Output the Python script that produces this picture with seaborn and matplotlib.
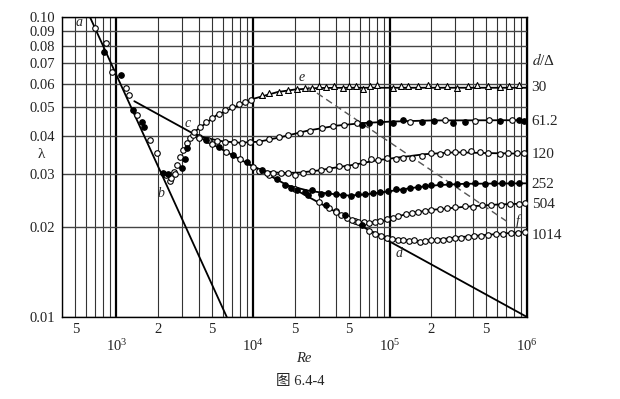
import pandas as pd
import matplotlib
matplotlib.use('Agg')
import matplotlib.pyplot as plt
import matplotlib.ticker as mticker
import matplotlib.transforms as mtransforms
import seaborn as sns

# ---- straight reference lines (end points)
lam_line_re = [640, 6400]
lam_line_y = [0.1, 0.01]
blas_line_re = [1350, 1e6]
blas_line_y = [0.0524, 0.01]
dash_re = [25000, 7.5e5]
dash_y = [0.0585, 0.0205]

# ---- fitted curves for each d/Delta
c30_re = [3600, 5400, 9900, 15000, 20000, 30000, 50000, 1e5, 1e6]
c30_y = [0.041, 0.0471, 0.0533, 0.0562, 0.0573, 0.0580, 0.0581, 0.0581, 0.0581]
c61_re = [3600, 4500, 6000, 8000, 11000, 16000, 25000, 40000, 63000, 1e5, 2e5, 1e6]
c61_y = [0.041, 0.0395, 0.0385, 0.0381, 0.0384, 0.0398, 0.0418, 0.0434, 0.0443, 0.0448, 0.0452, 0.0453]
c120_re = [9000, 12000, 16000, 22000, 30000, 40000, 55000, 80000, 1.2e5, 1.8e5, 3e5, 5e5, 1e6]
c120_y = [0.0325, 0.0306, 0.0302, 0.0303, 0.0308, 0.0315, 0.0322, 0.0333, 0.0341, 0.0349, 0.0354, 0.0352, 0.0350]
c252_re = [17000, 25000, 35000, 50000, 65000, 85000, 1.2e5, 1.6e5, 2.2e5, 3.5e5, 1e6]
c252_y = [0.0276, 0.0264, 0.0258, 0.0254, 0.0256, 0.0260, 0.0266, 0.0271, 0.0275, 0.0278, 0.0279]
c504_re = [40000, 47000, 55000, 70000, 85000, 1.1e5, 1.5e5, 2.1e5, 3.5e5, 6e5, 1e6]
c504_y = [0.0225, 0.0216, 0.0209, 0.0206, 0.0208, 0.0216, 0.0223, 0.0228, 0.0233, 0.0237, 0.0239]
c1014_re = [75000, 90000, 1.05e5, 1.3e5, 1.7e5, 2.2e5, 3e5, 4.5e5, 7e5, 1e6]
c1014_y = [0.0192, 0.0186, 0.0182, 0.0180, 0.0179, 0.0181, 0.0184, 0.0187, 0.0190, 0.0192]

# ---- measured points
lam_open_re = [700, 845, 935, 1170, 1245, 1424, 1750, 1963]
lam_open_y = [0.092, 0.0819, 0.0656, 0.058, 0.0549, 0.0471, 0.039, 0.0352]
lam_fill_re = [817, 1088, 1330, 1530, 1602, 2170]
lam_fill_y = [0.0764, 0.0641, 0.049, 0.0445, 0.043, 0.0302]
tr_open_re = [2320, 2480, 2520, 2650, 2700, 2750, 2890, 3040, 3250, 3420, 3600]
tr_open_y = [0.0297, 0.0283, 0.0291, 0.0304, 0.0300, 0.0321, 0.0341, 0.0360, 0.0380, 0.0395, 0.0404]
tr_fill_re = [2380, 2990, 3150, 3300]
tr_fill_y = [0.0300, 0.0313, 0.0335, 0.0365]
bl_open_re = [4000, 5000, 6300, 8000, 10000, 13000, 20000, 30000, 40000, 55000]
bl_open_y = [0.0399, 0.0377, 0.0356, 0.0336, 0.0317, 0.0297, 0.0267, 0.0241, 0.0225, 0.0209]
bl_fill_re = [4500, 5600, 7100, 9000, 11500, 15000, 25000, 34000, 47000, 62000]
bl_fill_y = [0.0389, 0.0369, 0.0348, 0.0328, 0.0308, 0.0289, 0.0255, 0.0236, 0.0219, 0.0203]

p30_rise_re = [3700, 4100, 4500, 5000, 5600, 6200, 7000, 7800, 8700, 9600]
p30_rise_y = [0.0415, 0.043, 0.0445, 0.046, 0.0475, 0.0488, 0.050, 0.0512, 0.0522, 0.053]
p30_re = [11500, 13000, 15500, 18000, 21000, 24000, 27000, 30000, 34000, 39000, 45000, 50000,
          56000, 63000, 71000, 80000, 1.05e5, 1.2e5, 1.35e5, 1.6e5, 1.9e5, 2.2e5, 2.6e5, 3.1e5,
          3.7e5, 4.3e5, 5.2e5, 6.3e5, 7.4e5, 8.8e5]
p30_y = [0.0548, 0.0556, 0.0563, 0.057, 0.0577, 0.058, 0.0578, 0.0588, 0.0586, 0.0590, 0.0578, 0.0591,
         0.0589, 0.0575, 0.0590, 0.0592, 0.0578, 0.0590, 0.0591, 0.0589, 0.0592, 0.0588, 0.0591, 0.0580,
         0.0590, 0.0592, 0.0588, 0.0585, 0.0591, 0.0592]
p61_open_re = [4000, 4700, 5400, 6200, 7200, 8300, 9500, 11000, 13000, 15500, 18000, 22000, 26000,
               32000, 38000, 46000, 57000, 1.4e5, 2.5e5, 4.2e5, 5.3e5, 7.8e5]
p61_open_y = [0.0395, 0.039, 0.0385, 0.0383, 0.0382, 0.038, 0.0382, 0.0384, 0.0392, 0.0398, 0.0405,
              0.0412, 0.0418, 0.0425, 0.0432, 0.0438, 0.0443, 0.0448, 0.0452, 0.0450, 0.0453, 0.0455]
p61_fill_re = [62000, 70000, 85000, 1.05e5, 1.25e5, 1.7e5, 2.1e5, 2.87e5, 3.5e5, 6.3e5, 8.8e5, 9.5e5]
p61_fill_y = [0.0435, 0.0442, 0.0446, 0.0444, 0.0452, 0.0448, 0.0449, 0.0443, 0.0448, 0.0451, 0.0452, 0.0451]
p120_re = [11000, 12500, 14000, 16000, 18000, 20000, 23000, 27000, 31000, 36000, 42000, 48000, 55000,
           63000, 72000, 82000, 95000, 1.1e5, 1.25e5, 1.45e5, 1.7e5, 2.0e5, 2.3e5, 2.6e5, 3.0e5,
           3.4e5, 3.9e5, 4.5e5, 5.2e5, 6.3e5, 7.3e5, 8.5e5, 9.5e5]
p120_y = [0.0306, 0.0303, 0.0302, 0.0301, 0.0303, 0.0298, 0.0302, 0.0306, 0.0308, 0.0312, 0.0318,
          0.0316, 0.0322, 0.0328, 0.0335, 0.0333, 0.0338, 0.0335, 0.0340, 0.0338, 0.0345, 0.0352,
          0.0350, 0.0354, 0.0356, 0.0355, 0.0357, 0.0355, 0.0352, 0.0349, 0.0353, 0.0352, 0.0352]
p252_re = [17000, 19000, 21000, 24000, 27000, 31000, 35000, 40000, 45000, 52000, 58000, 66000, 75000,
           85000, 97000, 1.1e5, 1.25e5, 1.4e5, 1.6e5, 1.8e5, 2.0e5, 2.3e5, 2.7e5, 3.1e5, 3.6e5,
           4.2e5, 4.9e5, 5.7e5, 6.6e5, 7.6e5, 8.8e5]
p252_y = [0.0276, 0.0270, 0.0266, 0.0262, 0.0266, 0.0258, 0.0260, 0.0257, 0.0255, 0.0253, 0.0258,
          0.0257, 0.0259, 0.0261, 0.0263, 0.0268, 0.0266, 0.0270, 0.0272, 0.0274, 0.0276, 0.0277,
          0.0277, 0.0278, 0.0278, 0.0279, 0.0278, 0.0279, 0.0280, 0.0279, 0.0279]
p504_re = [36000, 40000, 44000, 48000, 53000, 58000, 64000, 70000, 77000, 85000, 95000, 1.05e5, 1.15e5,
           1.3e5, 1.45e5, 1.6e5, 1.8e5, 2.0e5, 2.3e5, 2.6e5, 3.0e5, 3.5e5, 4.0e5, 4.7e5, 5.5e5,
           6.5e5, 7.5e5, 8.7e5, 9.6e5]
p504_y = [0.0230, 0.0224, 0.0219, 0.0214, 0.0210, 0.0208, 0.0207, 0.0206, 0.0207, 0.0209, 0.0212,
          0.0214, 0.0217, 0.0220, 0.0222, 0.0224, 0.0226, 0.0228, 0.0229, 0.0231, 0.0232, 0.0234,
          0.0233, 0.0236, 0.0236, 0.0237, 0.0238, 0.0238, 0.0239]
p1014_re = [70000, 78000, 86000, 95000, 1.04e5, 1.14e5, 1.25e5, 1.37e5, 1.5e5, 1.65e5, 1.8e5, 2.0e5,
            2.2e5, 2.45e5, 2.7e5, 3.0e5, 3.3e5, 3.7e5, 4.1e5, 4.6e5, 5.2e5, 5.9e5, 6.7e5, 7.6e5,
            8.6e5, 9.6e5]
p1014_y = [0.0194, 0.0189, 0.0186, 0.0184, 0.0182, 0.0181, 0.0180, 0.0179, 0.0180, 0.0178, 0.0179,
           0.0180, 0.0181, 0.0181, 0.0182, 0.0184, 0.0183, 0.0185, 0.0186, 0.0186, 0.0188, 0.0189,
           0.0189, 0.0190, 0.0191, 0.0192]

# ---- text
ytick_vals = [0.01, 0.02, 0.03, 0.04, 0.05, 0.06, 0.07, 0.08, 0.09, 0.10]
ytick_txt = ['0.01', '0.02', '0.03', '0.04', '0.05', '0.06', '0.07', '0.08', '0.09', '0.10']
xmajor_vals = [1e3, 1e4, 1e5, 1e6]
xmajor_txt = [r'$\mathregular{10^3}$', r'$\mathregular{10^4}$', r'$\mathregular{10^5}$', r'$\mathregular{10^6}$']
xminor_vals = [500, 2000, 5000, 20000, 50000, 200000, 500000]
xminor_txt = ['5', '2', '5', '5', '5', '2', '5']
ratio_names = ['30', '61.2', '120', '252', '504', '1014']
ratio_pos = [0.0580, 0.0447, 0.0349, 0.0277, 0.0238, 0.0187]
point_names = ['a', 'b', 'c', 'd', 'e', 'f']
point_re = [535, 2130, 3300, 1.17e5, 22500, 8.5e5]
point_y = [0.0955, 0.0259, 0.0443, 0.0163, 0.063, 0.0209]

sns.set_theme(style='white')
plt.rcParams['font.family'] = ['Liberation Serif', 'Noto Sans CJK SC', 'DejaVu Sans']
plt.rcParams['mathtext.fontset'] = 'stix'

fig = plt.figure(figsize=(6.2, 3.99), dpi=100)
ax = fig.add_axes([0.1, 0.2055, 0.75, 0.7519])
ax.set_xscale('log')
ax.set_yscale('log')

lines = [(lam_line_re, lam_line_y), (blas_line_re, blas_line_y), (c30_re, c30_y), (c61_re, c61_y),
         (c120_re, c120_y), (c252_re, c252_y), (c504_re, c504_y), (c1014_re, c1014_y)]
frames = []
for i, (xs, ys) in enumerate(lines):
    frames.append(pd.DataFrame({'Re': xs, 'lam': ys, 'curve': i}))
line_df = pd.concat(frames)
sns.lineplot(data=line_df, x='Re', y='lam', units='curve', estimator=None, sort=False,
             color='black', linewidth=1.3, ax=ax, legend=False)
sns.lineplot(x=dash_re, y=dash_y, color='#555555', linewidth=1.0, linestyle=(0, (5, 3)),
             ax=ax, legend=False)

open_sets = [(lam_open_re, lam_open_y), (tr_open_re, tr_open_y), (bl_open_re, bl_open_y),
             (p30_rise_re, p30_rise_y), (p61_open_re, p61_open_y), (p120_re, p120_y),
             (p504_re, p504_y), (p1014_re, p1014_y)]
for xs, ys in open_sets:
    sns.scatterplot(x=xs, y=ys, marker='o', s=16, color='white', edgecolor='black',
                    linewidth=0.8, ax=ax, zorder=3)
fill_sets = [(lam_fill_re, lam_fill_y), (tr_fill_re, tr_fill_y), (bl_fill_re, bl_fill_y),
             (p61_fill_re, p61_fill_y), (p252_re, p252_y)]
for xs, ys in fill_sets:
    sns.scatterplot(x=xs, y=ys, marker='o', s=16, color='black', edgecolor='black',
                    linewidth=0.8, ax=ax, zorder=3)
sns.scatterplot(x=p30_re, y=p30_y, marker='^', s=18, color='white', edgecolor='black',
                linewidth=0.8, ax=ax, zorder=3)

ax.set_xlim(400, 1e6)
ax.set_ylim(0.01, 0.1)

# axes, ticks, grid
ax.xaxis.set_major_locator(mticker.FixedLocator(xmajor_vals))
ax.xaxis.set_major_formatter(mticker.FixedFormatter(xmajor_txt))
ax.xaxis.set_minor_locator(mticker.LogLocator(base=10, subs=[2, 3, 4, 5, 6, 7, 8, 9], numticks=20))
minor_lab = {int(round(v)): t for v, t in zip(xminor_vals, xminor_txt)}
ax.xaxis.set_minor_formatter(mticker.FuncFormatter(lambda v, p: minor_lab.get(int(round(v)), '')))
ax.yaxis.set_major_locator(mticker.FixedLocator(ytick_vals))
ax.yaxis.set_major_formatter(mticker.FixedFormatter(ytick_txt))
ax.yaxis.set_minor_locator(mticker.NullLocator())
ax.tick_params(axis='x', which='major', length=0, pad=15, labelsize=10.5, colors='#222222')
ax.tick_params(axis='x', which='minor', length=0, pad=4, labelsize=10.5, labelcolor='#222222')
ax.tick_params(axis='y', which='major', length=0, pad=5, labelsize=10.5, colors='#222222')
ax.grid(which='major', axis='x', color='black', linewidth=1.6)
ax.grid(which='minor', axis='x', color='#333333', linewidth=0.8)
ax.grid(which='major', axis='y', color='#444444', linewidth=1.0)
ax.set_axisbelow(True)
for sp in ax.spines.values():
    sp.set_color('black')
    sp.set_linewidth(1.0)

ax.set_xlabel('Re', fontsize=10.5, style='italic', labelpad=4)
ax.xaxis.set_label_coords(0.52, -0.115)
ax.set_ylabel('λ', fontsize=11, rotation=0, labelpad=12)
ax.yaxis.set_label_coords(-0.045, 0.52)

trans = mtransforms.blended_transform_factory(ax.transAxes, ax.transData)
for name, yv in zip(ratio_names, ratio_pos):
    ax.text(1.01, yv, name, transform=trans, fontsize=11, va='center', ha='left')
ax.text(1.01, 0.0719, r'$d$/Δ', transform=trans, fontsize=11, va='center', ha='left')
for name, xv, yv in zip(point_names, point_re, point_y):
    ax.text(xv, yv, name, fontsize=10, style='italic', ha='center', va='center')

fig.text(0.484, 0.045, '图 6.4-4', fontsize=10.5, ha='center', va='center')

fig.savefig('out.png', dpi=100)
